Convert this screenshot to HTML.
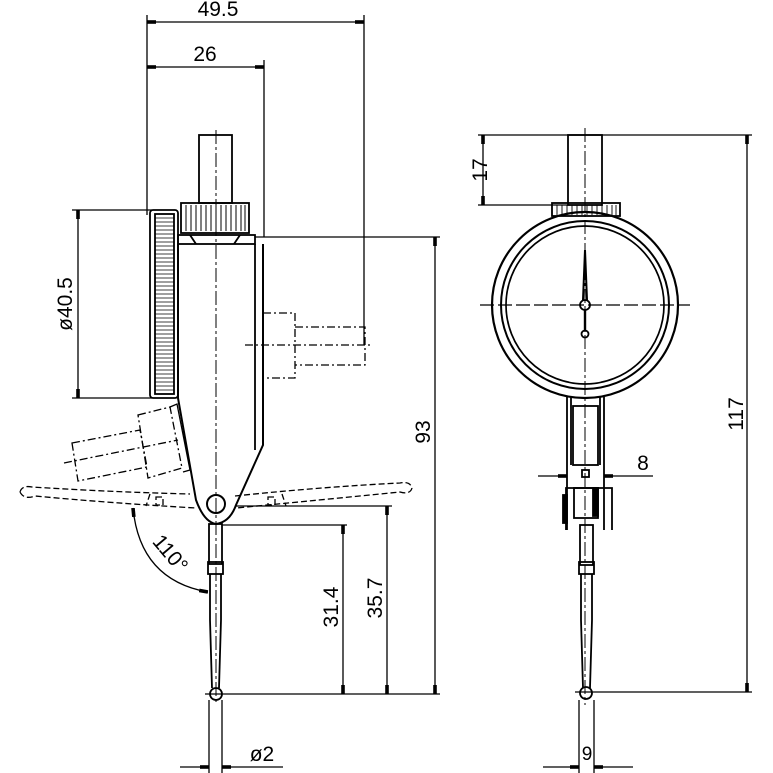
<!DOCTYPE html>
<html><head><meta charset="utf-8"><style>
html,body{margin:0;padding:0;background:#fff;}
svg{display:block}
text{font-family:"Liberation Sans",sans-serif;font-size:21px;fill:#000}
</style></head><body>
<svg width="773" height="773" viewBox="0 0 773 773" xmlns="http://www.w3.org/2000/svg" fill="none" stroke="#000" stroke-width="1.8">
<defs>
<marker id="a" viewBox="0 0 10 4" refX="10" refY="2" markerWidth="9" markerHeight="4" orient="auto-start-reverse" markerUnits="userSpaceOnUse"><rect x="0" y="0" width="10" height="4" fill="#000" stroke="none"/></marker>
</defs>
<g stroke-width="1.3">
<line x1="147" y1="15" x2="147" y2="215"/>
<line x1="364" y1="15" x2="364" y2="345"/>
<line x1="264" y1="60" x2="264" y2="237"/>
<line x1="147" y1="22" x2="364" y2="22" marker-start="url(#a)" marker-end="url(#a)"/>
<line x1="147" y1="67" x2="264" y2="67" marker-start="url(#a)" marker-end="url(#a)"/>
<line x1="72" y1="210" x2="152" y2="210"/>
<line x1="72" y1="398" x2="152" y2="398"/>
<line x1="78" y1="210" x2="78" y2="398" marker-start="url(#a)" marker-end="url(#a)"/>
<line x1="255" y1="237" x2="440" y2="237"/>
<line x1="435" y1="237" x2="435" y2="694" marker-start="url(#a)" marker-end="url(#a)"/>
<line x1="205" y1="694" x2="440" y2="694"/>
<line x1="222" y1="525" x2="347" y2="525"/>
<line x1="343" y1="525" x2="343" y2="694" marker-start="url(#a)" marker-end="url(#a)"/>
<line x1="235" y1="506" x2="392" y2="506"/>
<line x1="387" y1="506" x2="387" y2="694" marker-start="url(#a)" marker-end="url(#a)"/>
<line x1="209" y1="700" x2="209" y2="773"/>
<line x1="222" y1="700" x2="222" y2="773"/>
<line x1="180" y1="767" x2="209" y2="767" marker-end="url(#a)"/>
<line x1="222" y1="767" x2="283" y2="767" marker-start="url(#a)"/>
<path d="M133 508 Q140 580 208 592" marker-start="url(#a)" marker-end="url(#a)"/>
<line x1="478" y1="135" x2="752" y2="135"/>
<line x1="478" y1="205" x2="570" y2="205"/>
<line x1="483" y1="135" x2="483" y2="205" marker-start="url(#a)" marker-end="url(#a)"/>
<line x1="747" y1="135" x2="747" y2="692" marker-start="url(#a)" marker-end="url(#a)"/>
<line x1="575" y1="692" x2="752" y2="692"/>
<line x1="538" y1="476" x2="567" y2="476" marker-end="url(#a)"/>
<line x1="604" y1="476" x2="653" y2="476" marker-start="url(#a)"/>
<line x1="579" y1="700" x2="579" y2="773"/>
<line x1="594" y1="700" x2="594" y2="773"/>
<line x1="543" y1="767" x2="579" y2="767" marker-end="url(#a)"/>
<line x1="594" y1="767" x2="633" y2="767" marker-start="url(#a)"/>
</g>
<g stroke="none">
<text x="218" y="16" text-anchor="middle">49.5</text>
<text x="205" y="61" text-anchor="middle">26</text>
<text transform="translate(72,304) rotate(-90)" text-anchor="middle">ø40.5</text>
<text transform="translate(430,432) rotate(-90)" text-anchor="middle">93</text>
<text transform="translate(338,607) rotate(-90)" text-anchor="middle">31.4</text>
<text transform="translate(382,598) rotate(-90)" text-anchor="middle">35.7</text>
<text x="262" y="761" text-anchor="middle">ø2</text>
<text transform="translate(165,558) rotate(50)" text-anchor="middle">110°</text>
<text transform="translate(487,170) rotate(-90)" text-anchor="middle">17</text>
<text transform="translate(743,414) rotate(-90)" text-anchor="middle">117</text>
<text x="643" y="470" text-anchor="middle">8</text>
<text x="587" y="760" text-anchor="middle" style="font-size:19px">9</text>
</g>
<rect x="199" y="135" width="33" height="68"/>
<rect x="181" y="203" width="68" height="30"/>
<g stroke-width="1">
<path d="M186 205V231M191 205V231M196 205V231M201 205V231M206 205V231M211 205V231M216 205V231M221 205V231M226 205V231M231 205V231M236 205V231M241 205V231M245 205V231"/>
</g>
<rect x="178" y="235" width="77" height="9"/>
<path d="M190 235 L196 244 M240 235 L234 244"/>
<rect x="150" y="210" width="28" height="188" rx="3"/>
<rect x="155" y="214" width="19" height="180"/>
<g stroke-width="0.8">
<path d="M155 218H174M155 222H174M155 226H174M155 230H174M155 234H174M155 238H174M155 242H174M155 246H174M155 250H174M155 254H174M155 258H174M155 262H174M155 266H174M155 270H174M155 274H174M155 278H174M155 282H174M155 286H174M155 290H174M155 294H174M155 298H174M155 302H174M155 306H174M155 310H174M155 314H174M155 318H174M155 322H174M155 326H174M155 330H174M155 334H174M155 338H174M155 342H174M155 346H174M155 350H174M155 354H174M155 358H174M155 362H174M155 366H174M155 370H174M155 374H174M155 378H174M155 382H174M155 386H174M155 390H174"/>
</g>
<path d="M178 244 V398 L196 500 Q204 522 216 524 Q230 522 236 505 L263 445 V244" stroke-width="2"/>
<line x1="255" y1="244" x2="255" y2="450"/>
<circle cx="216" cy="504" r="9" stroke-width="2"/>
<rect x="209" y="524" width="13" height="40"/>
<rect x="208" y="562" width="15" height="12"/>
<path d="M210 574 L210 620 L212 688 M221 574 L221 620 L219 688"/>
<circle cx="216" cy="694" r="6"/>
<g stroke-dasharray="8,3,2,3" stroke-width="1.3">
<path d="M263 313 H295 V378 H263"/>
<path d="M295 327 H365 V365 H295"/>
<line x1="245" y1="345" x2="372" y2="345"/>
<path d="M138 415 L170 407 L182 468 L148 478 Z"/>
<path d="M72 443 L140 430 L147 467 L78 481 Z"/>
<line x1="64" y1="463" x2="178" y2="440"/>
</g>
<path d="M170 407 L177 404 L190 470 L183 472" stroke-width="1.3"/>
<g stroke-dasharray="6,3" stroke-width="1.3">
<path d="M20 492 Q22 485 32 487 Q110 492 190 494 M20 492 Q24 500 35 496 Q110 503 196 508"/>
<path d="M235 496 Q320 487 400 483 Q410 481 412 488 Q410 495 400 492 Q320 500 236 508"/>
<rect x="156" y="497" width="7" height="8"/>
<rect x="268" y="497" width="7" height="8"/>
<path d="M150 494 L146 506 M282 494 L286 506"/>
</g>
<line x1="216" y1="130" x2="216" y2="705" stroke-dasharray="14,3,3,3" stroke-width="1"/>
<rect x="568" y="135" width="34" height="70"/>
<rect x="552" y="203" width="68" height="13"/>
<g stroke-width="0.9"><path d="M557 205V215M562 205V215M567 205V215M572 205V215M577 205V215M582 205V215M587 205V215M592 205V215M597 205V215M602 205V215M607 205V215M612 205V215M616 205V215"/></g>
<circle cx="585" cy="305" r="93" stroke-width="2.2"/>
<circle cx="585" cy="305" r="84" stroke-width="2"/>
<circle cx="585" cy="305" r="79" stroke-width="1.7"/>
<path d="M585 250 L587 300 M585 250 L583 300" stroke-width="2"/>
<line x1="585" y1="310" x2="585" y2="332" stroke-width="2.4"/>
<circle cx="585" cy="305" r="5" fill="#fff"/>
<circle cx="585" cy="334" r="3.5" fill="#fff"/>
<line x1="480" y1="305" x2="690" y2="305" stroke-dasharray="14,4" stroke-width="1.2"/>
<path d="M567 397 V530 M604 397 V530"/>
<path d="M571 397 V465 M600 397 V465"/>
<rect x="573" y="406" width="25" height="59"/>
<rect x="582" y="470" width="7" height="7"/>
<path d="M566 530 V488 H612 V530"/>
<rect x="574" y="488" width="24" height="30"/>
<rect x="563" y="495" width="4" height="28" fill="#000"/>
<rect x="593" y="488" width="5" height="28" fill="#000"/>
<rect x="580" y="525" width="13" height="40"/>
<rect x="579" y="562" width="15" height="12"/>
<path d="M581 574 L581 620 L583 688 M592 574 L592 620 L590 688"/>
<circle cx="586" cy="693" r="6"/>
<line x1="585" y1="128" x2="585" y2="705" stroke-dasharray="14,3,3,3" stroke-width="1"/>
</svg>
</body></html>
